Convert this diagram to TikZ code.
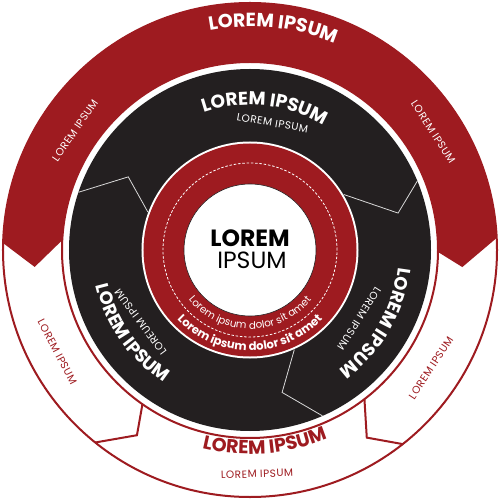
\documentclass[tikz,border=0pt]{standalone}
\usepackage{fontspec}
\newfontfamily\mont{Poppins}
\newfontfamily\montsp[LetterSpace=5]{Poppins}
\usetikzlibrary{decorations.text}
\definecolor{wheelred}{RGB}{158,27,32}
\definecolor{wheeldark}{RGB}{35,31,32}
\newcommand{\arclabel}[5]{\path[decorate,decoration={text along path,text align=center,text={|#4|#5}}] (#2:#1) arc[start angle=#2,end angle=#3,radius=#1];}

\begin{document}
\begin{tikzpicture}
        [x=1pt,y=1pt,
         redline/.style={wheelred,line width=2},
         cutline/.style={white!85!black,line width=0.8},
         small/.style={font=\montsp\fontsize{10.5}{10.5}\selectfont}]
        \useasboundingbox (-250,-250) rectangle (249,250);
        \fill[white] (-250,-250) rectangle (249,250);

        \draw[redline] (0,0) circle (247);
        \draw[redline] (0,0) circle (188);
        \fill[wheelred] (2.8:247) arc[start angle=2.8,end angle=178.4,radius=247] -- (184.5:216) -- (177:188)
          arc[start angle=177,end angle=-0.6,radius=188] -- (-4.6:213) -- cycle;
        \draw[redline] (231.2:247) -- (238.6:217) -- (235.1:188);
        \draw[redline] (308.2:247) -- (301.9:221) -- (307.5:188);

        \fill[wheeldark] (0,0) circle (181);
        \draw[cutline] (161.4:181) -- (149:142) -- (159.6:109);
        \draw[cutline] (22.4:181) -- (14:152.6) -- (30.6:109);
        \draw[cutline] (293.6:181) -- (282.7:146) -- (294:109);

        \fill[white] (0,0) circle (108.5);
        \fill[wheelred] (0,0) circle (106.5);
        \draw[white,line width=0.8,dash pattern=on 2.5pt off 1.8pt] (0,0) circle (87);
        \filldraw[fill=white,draw=wheeldark,line width=0.6] (0,0) circle (66);

        \node[font=\mont\bfseries\fontsize{23.5}{23.5}\selectfont,text=black] (hub) at (0,12) {LOREM};
        \node[font=\mont\fontsize{23.5}{23.5}\selectfont,text=black] (hubsub) at (2,-10) {IPSUM};

        \arclabel{79}{190}{350}{\mont\fontsize{10.3}{10.3}\selectfont\color{white}}{Lorem ipsum dolor sit amet}
        \arclabel{100.5}{195}{345}{\mont\bfseries\fontsize{11.6}{11.6}\selectfont\color{white}}{Lorem ipsum dolor sit amet}

        \arclabel{223.5}{134}{34}{\mont\bfseries\fontsize{19}{19}\selectfont\color{white}}{LOREM IPSUM}
        \node[small,white,rotate=55.6] (bandleft) at (145.6:212) {LOREM IPSUM};
        \node[small,white,rotate=-57.2] (bandright) at (32.8:218) {LOREM IPSUM};

        \arclabel{145}{134}{34}{\mont\bfseries\fontsize{18.5}{18.5}\selectfont\color{white}}{LOREM IPSUM}
        \node[small,white,rotate=-10] (topsub) at (80:129) {LOREM IPSUM};
        \arclabel{158}{160}{270}{\mont\bfseries\fontsize{18}{18}\selectfont\color{white}}{LOREM IPSUM}
        \node[small,white,rotate=126.6] (leftsub) at (213.3:131) {LOREUM IPSUM};
        \arclabel{149}{385}{275}{\mont\bfseries\fontsize{18}{18}\selectfont\color{white}}{LOREM IPSUM}
        \node[small,white,rotate=237.8] (rightsub) at (327.8:129) {LOREM IPSUM};

        \node[small,wheelred,rotate=-62.4] (outleft) at (207.9:218) {LOREM IPSUM};
        \node[small,wheelred,rotate=56.9] (outright) at (326.9:216) {LOREM IPSUM};
        \arclabel{204}{219.4}{329.4}{\mont\bfseries\fontsize{19}{19}\selectfont\color{wheelred}}{LOREM IPSUM}
        \node[small,wheelred,rotate=2] (outsub) at (271.8:224) {LOREM IPSUM};
\end{tikzpicture}
\end{document}
